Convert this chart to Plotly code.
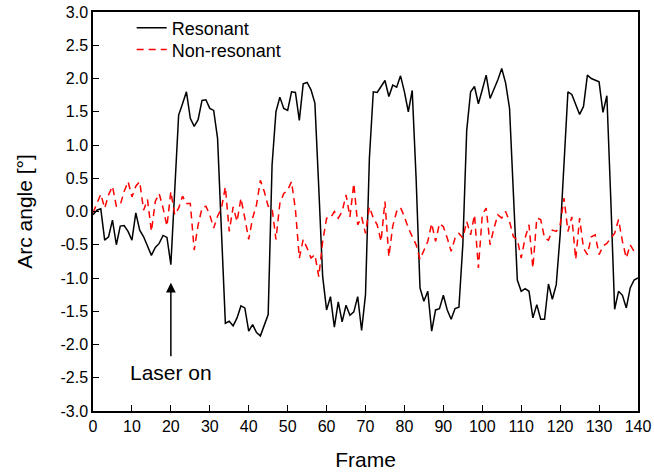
import plotly.graph_objects as go

frames = list(range(0, 141))

resonant = [
    -0.05, 0.02, 0.04, -0.43, -0.38, -0.13, -0.50, -0.22, -0.21, -0.30,
    -0.43, -0.02, -0.28, -0.38, -0.52, -0.66, -0.54, -0.48, -0.36, -0.39,
    -0.80, 0.40, 1.45, 1.62, 1.80, 1.40, 1.28, 1.38, 1.67, 1.68,
    1.55, 1.52, 1.10, -0.30, -1.68, -1.65, -1.72, -1.60, -1.42, -1.45,
    -1.80, -1.70, -1.82, -1.87, -1.72, -1.55, 0.70, 1.50, 1.72, 1.55,
    1.52, 1.80, 1.79, 1.37, 1.92, 1.94, 1.83, 1.63, 0.35, -0.98,
    -1.48, -1.28, -1.74, -1.36, -1.66, -1.41, -1.56, -1.51, -1.28, -1.79,
    -1.25, 0.80, 1.80, 1.79, 1.88, 1.97, 1.73, 1.90, 1.87, 2.04,
    1.80, 1.50, 1.82, 0.50, -1.15, -1.35, -1.20, -1.80, -1.48, -1.46,
    -1.26, -1.48, -1.62, -1.46, -1.44, -0.50, 1.22, 1.80, 1.88, 1.62,
    1.83, 2.05, 1.70, 1.83, 1.98, 2.15, 1.93, 1.55, 0.30, -1.03,
    -1.20, -1.16, -1.20, -1.60, -1.40, -1.62, -1.62, -1.09, -1.32, -1.10,
    -0.35, 0.70, 1.80, 1.76, 1.60, 1.46, 1.58, 2.05, 2.00, 1.97,
    1.95, 1.49, 1.74, 0.20, -1.47, -1.20, -1.26, -1.45, -1.15, -1.03,
    -1.00,
]

non_resonant = [
    -0.02, 0.12, 0.26, 0.05, 0.25, 0.38, 0.08, 0.10, 0.30, 0.45,
    0.22, 0.38, 0.45, 0.02, 0.18, -0.30, 0.15, 0.27, 0.05, -0.22,
    0.30, -0.05, 0.05, 0.23, 0.12, 0.12, -0.58, -0.20, 0.05, 0.08,
    -0.05, -0.25, -0.07, 0.05, 0.37, -0.30, 0.07, -0.15, 0.20, -0.10,
    -0.42, -0.10, 0.10, 0.47, 0.30, 0.08, 0.05, -0.42, 0.12, 0.27,
    0.32, 0.45, 0.03, -0.70, -0.42, -0.55, -0.70, -0.65, -0.98, -0.45,
    -0.10, -0.10, 0.00, -0.10, 0.00, 0.25, -0.08, 0.42, -0.20, -0.08,
    -0.33, 0.07, -0.10, -0.20, -0.45, 0.15, -0.68, -0.22, 0.00, 0.06,
    -0.08, -0.25, -0.38, -0.50, -0.72, -0.58, -0.45, -0.18, -0.45, -0.18,
    -0.23, -0.40, -0.60, -0.40, -0.33, -0.40, -0.15, -0.35, -0.05, -0.85,
    -0.05, 0.05, -0.50, -0.25, -0.05, -0.10, 0.00, -0.15, -0.38, -0.42,
    -0.70, -0.40, -0.20, -0.85, -0.10, -0.12, -0.40, -0.43, -0.28, -0.30,
    -0.20, 0.20, -0.30, -0.08, -0.72, -0.10, -0.55, -0.65, -0.38, -0.35,
    -0.65, -0.52, -0.48, -0.40, -0.33, -0.12, -0.45, -0.70, -0.50, -0.60,
    -0.60,
]

x_ticks = [0, 10, 20, 30, 40, 50, 60, 70, 80, 90, 100, 110, 120, 130, 140]
y_ticks = [-3.0, -2.5, -2.0, -1.5, -1.0, -0.5, 0.0, 0.5, 1.0, 1.5, 2.0, 2.5, 3.0]
y_tick_labels = ["-3.0", "-2.5", "-2.0", "-1.5", "-1.0", "-0.5", "0.0",
                 "0.5", "1.0", "1.5", "2.0", "2.5", "3.0"]

laser_frame = 20
laser_head = -1.07
laser_tail = -2.2
laser_label_y = -2.42

FONT = "Liberation Sans, Arial, sans-serif"

fig = go.Figure()
fig.add_trace(go.Scatter(
    x=frames, y=resonant, mode="lines", name="Resonant",
    line=dict(color="black", width=1.5), legend="legend",
))
fig.add_trace(go.Scatter(
    x=frames, y=non_resonant, mode="lines", name="Non-resonant",
    line=dict(color="#ff0000", width=1.5, dash="7px,5px"), legend="legend2",
))

fig.add_annotation(
    x=laser_frame, y=laser_head, ax=laser_frame, ay=laser_tail,
    xref="x", yref="y", axref="x", ayref="y",
    text="", showarrow=True, arrowhead=2, arrowsize=1.3, arrowwidth=1.5,
    arrowcolor="black",
)
fig.add_annotation(
    x=laser_frame, y=laser_label_y, xref="x", yref="y",
    text="Laser on", showarrow=False,
    font=dict(family=FONT, size=21, color="black"),
)

legend_style = dict(
    xanchor="left", yanchor="middle", bgcolor="rgba(0,0,0,0)",
    font=dict(family=FONT, size=18), borderwidth=0,
)

fig.update_layout(
    width=654, height=474,
    margin=dict(l=93, r=16, t=12, b=63, autoexpand=False),
    paper_bgcolor="white", plot_bgcolor="white",
    font=dict(family=FONT, color="black", size=16),
    showlegend=True,
    legend=dict(x=0.071, y=0.96, **legend_style),
    legend2=dict(x=0.071, y=0.905, **legend_style),
    xaxis=dict(
        range=[0, 140], tickvals=x_ticks, ticks="inside", ticklen=6,
        tickcolor="black", showline=True, linecolor="black", linewidth=1.5,
        mirror=True, showgrid=False, zeroline=False, automargin=False,
        ticklabeloverflow="allow",
        title=dict(text="Frame", font=dict(family=FONT, size=21), standoff=18),
        tickfont=dict(family=FONT, size=16),
    ),
    yaxis=dict(
        range=[-3, 3], tickvals=y_ticks, ticktext=y_tick_labels,
        ticks="inside", ticklen=6, tickcolor="black", showline=True,
        linecolor="black", linewidth=1.5, mirror=True, showgrid=False,
        zeroline=False, automargin=False, ticklabeloverflow="allow",
        title=dict(text="Arc angle [°]", font=dict(family=FONT, size=21), standoff=22),
        tickfont=dict(family=FONT, size=16),
    ),
)

# Remove the browser's default 8px body margin so the figure sits at (0, 0),
# and hide the interactive mode bar.
fig.write_html(
    "out.html",
    config={"displayModeBar": False},
    post_script="document.body.style.margin='0';",
)
